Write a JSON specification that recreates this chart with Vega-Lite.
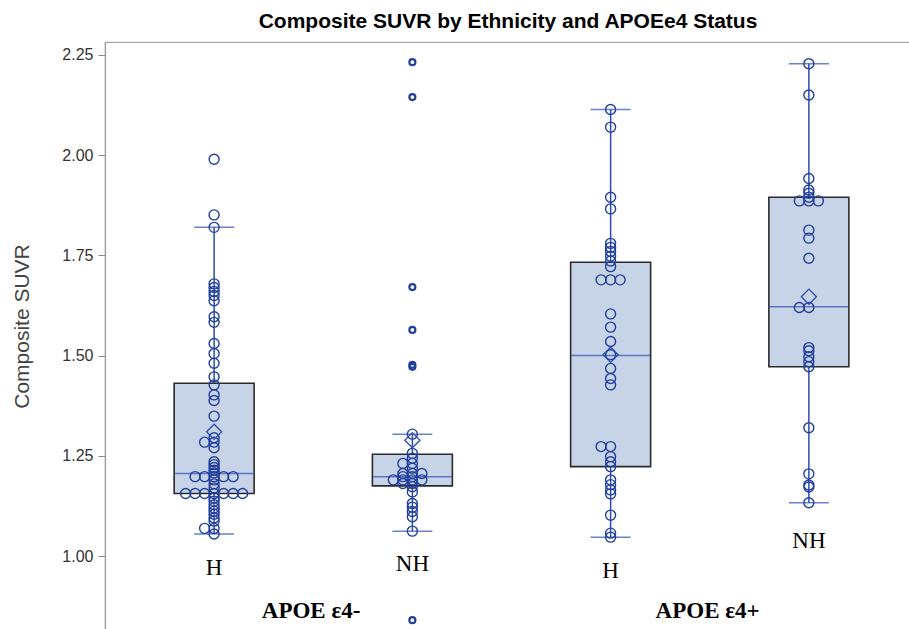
{
  "$schema": "https://vega.github.io/schema/vega-lite/v6.json",
  "autosize": "none",
  "padding": {"left": 105, "top": 42, "right": 0, "bottom": 0},
  "width": 806,
  "height": 590,
  "background": "white",
  "title": {
    "text": "Composite SUVR by Ethnicity and APOEe4 Status",
    "font": "Liberation Sans",
    "fontSize": 21,
    "fontWeight": "bold",
    "color": "#000000",
    "anchor": "middle",
    "frame": "group",
    "baseline": "alphabetic",
    "offset": 15,
    "dy": 22
  },
  "config": {
    "view": {"stroke": "#a6a6a6", "strokeWidth": 1.2},
    "axis": {"grid": false}
  },
  "datasets": {
    "points": [
      {"grp": "e4- H", "suvr": 1.990}, {"grp": "e4- H", "suvr": 1.851}, {"grp": "e4- H", "suvr": 1.820},
      {"grp": "e4- H", "suvr": 1.679}, {"grp": "e4- H", "suvr": 1.670}, {"grp": "e4- H", "suvr": 1.660},
      {"grp": "e4- H", "suvr": 1.650}, {"grp": "e4- H", "suvr": 1.637}, {"grp": "e4- H", "suvr": 1.597},
      {"grp": "e4- H", "suvr": 1.583}, {"grp": "e4- H", "suvr": 1.530}, {"grp": "e4- H", "suvr": 1.505},
      {"grp": "e4- H", "suvr": 1.481}, {"grp": "e4- H", "suvr": 1.447}, {"grp": "e4- H", "suvr": 1.427},
      {"grp": "e4- H", "suvr": 1.402}, {"grp": "e4- H", "suvr": 1.388}, {"grp": "e4- H", "suvr": 1.349},
      {"grp": "e4- H", "suvr": 1.295}, {"grp": "e4- H", "suvr": 1.284}, {"grp": "e4- H", "suvr": 1.284},
      {"grp": "e4- H", "suvr": 1.270}, {"grp": "e4- H", "suvr": 1.235}, {"grp": "e4- H", "suvr": 1.228},
      {"grp": "e4- H", "suvr": 1.221}, {"grp": "e4- H", "suvr": 1.214}, {"grp": "e4- H", "suvr": 1.207},
      {"grp": "e4- H", "suvr": 1.198}, {"grp": "e4- H", "suvr": 1.198}, {"grp": "e4- H", "suvr": 1.198},
      {"grp": "e4- H", "suvr": 1.198}, {"grp": "e4- H", "suvr": 1.198}, {"grp": "e4- H", "suvr": 1.190},
      {"grp": "e4- H", "suvr": 1.180}, {"grp": "e4- H", "suvr": 1.170}, {"grp": "e4- H", "suvr": 1.156},
      {"grp": "e4- H", "suvr": 1.156}, {"grp": "e4- H", "suvr": 1.156}, {"grp": "e4- H", "suvr": 1.156},
      {"grp": "e4- H", "suvr": 1.156}, {"grp": "e4- H", "suvr": 1.156}, {"grp": "e4- H", "suvr": 1.156},
      {"grp": "e4- H", "suvr": 1.145}, {"grp": "e4- H", "suvr": 1.137}, {"grp": "e4- H", "suvr": 1.128},
      {"grp": "e4- H", "suvr": 1.120}, {"grp": "e4- H", "suvr": 1.112}, {"grp": "e4- H", "suvr": 1.104},
      {"grp": "e4- H", "suvr": 1.095}, {"grp": "e4- H", "suvr": 1.087}, {"grp": "e4- H", "suvr": 1.069},
      {"grp": "e4- H", "suvr": 1.069}, {"grp": "e4- H", "suvr": 1.055},

      {"grp": "e4- NH", "suvr": 2.232}, {"grp": "e4- NH", "suvr": 2.145}, {"grp": "e4- NH", "suvr": 1.671},
      {"grp": "e4- NH", "suvr": 1.564}, {"grp": "e4- NH", "suvr": 1.477}, {"grp": "e4- NH", "suvr": 1.472},
      {"grp": "e4- NH", "suvr": 0.840}, {"grp": "e4- NH", "suvr": 1.304}, {"grp": "e4- NH", "suvr": 1.256},
      {"grp": "e4- NH", "suvr": 1.244}, {"grp": "e4- NH", "suvr": 1.231}, {"grp": "e4- NH", "suvr": 1.231},
      {"grp": "e4- NH", "suvr": 1.219}, {"grp": "e4- NH", "suvr": 1.206}, {"grp": "e4- NH", "suvr": 1.206},
      {"grp": "e4- NH", "suvr": 1.206}, {"grp": "e4- NH", "suvr": 1.198}, {"grp": "e4- NH", "suvr": 1.198},
      {"grp": "e4- NH", "suvr": 1.190}, {"grp": "e4- NH", "suvr": 1.190}, {"grp": "e4- NH", "suvr": 1.190},
      {"grp": "e4- NH", "suvr": 1.190}, {"grp": "e4- NH", "suvr": 1.181}, {"grp": "e4- NH", "suvr": 1.181},
      {"grp": "e4- NH", "suvr": 1.173}, {"grp": "e4- NH", "suvr": 1.160}, {"grp": "e4- NH", "suvr": 1.131},
      {"grp": "e4- NH", "suvr": 1.122}, {"grp": "e4- NH", "suvr": 1.111}, {"grp": "e4- NH", "suvr": 1.098},
      {"grp": "e4- NH", "suvr": 1.062},

      {"grp": "e4+ H", "suvr": 2.114}, {"grp": "e4+ H", "suvr": 2.070}, {"grp": "e4+ H", "suvr": 1.895},
      {"grp": "e4+ H", "suvr": 1.866}, {"grp": "e4+ H", "suvr": 1.780}, {"grp": "e4+ H", "suvr": 1.770},
      {"grp": "e4+ H", "suvr": 1.760}, {"grp": "e4+ H", "suvr": 1.748}, {"grp": "e4+ H", "suvr": 1.736},
      {"grp": "e4+ H", "suvr": 1.722}, {"grp": "e4+ H", "suvr": 1.689}, {"grp": "e4+ H", "suvr": 1.689},
      {"grp": "e4+ H", "suvr": 1.689}, {"grp": "e4+ H", "suvr": 1.604}, {"grp": "e4+ H", "suvr": 1.571},
      {"grp": "e4+ H", "suvr": 1.535}, {"grp": "e4+ H", "suvr": 1.502}, {"grp": "e4+ H", "suvr": 1.468},
      {"grp": "e4+ H", "suvr": 1.443}, {"grp": "e4+ H", "suvr": 1.427}, {"grp": "e4+ H", "suvr": 1.273},
      {"grp": "e4+ H", "suvr": 1.273}, {"grp": "e4+ H", "suvr": 1.248}, {"grp": "e4+ H", "suvr": 1.235},
      {"grp": "e4+ H", "suvr": 1.223}, {"grp": "e4+ H", "suvr": 1.190}, {"grp": "e4+ H", "suvr": 1.178},
      {"grp": "e4+ H", "suvr": 1.165}, {"grp": "e4+ H", "suvr": 1.155}, {"grp": "e4+ H", "suvr": 1.102},
      {"grp": "e4+ H", "suvr": 1.057}, {"grp": "e4+ H", "suvr": 1.047},

      {"grp": "e4+ NH", "suvr": 2.228}, {"grp": "e4+ NH", "suvr": 2.150}, {"grp": "e4+ NH", "suvr": 1.942},
      {"grp": "e4+ NH", "suvr": 1.913}, {"grp": "e4+ NH", "suvr": 1.905}, {"grp": "e4+ NH", "suvr": 1.895},
      {"grp": "e4+ NH", "suvr": 1.886}, {"grp": "e4+ NH", "suvr": 1.886}, {"grp": "e4+ NH", "suvr": 1.886},
      {"grp": "e4+ NH", "suvr": 1.813}, {"grp": "e4+ NH", "suvr": 1.793}, {"grp": "e4+ NH", "suvr": 1.743},
      {"grp": "e4+ NH", "suvr": 1.620}, {"grp": "e4+ NH", "suvr": 1.620}, {"grp": "e4+ NH", "suvr": 1.520},
      {"grp": "e4+ NH", "suvr": 1.512}, {"grp": "e4+ NH", "suvr": 1.497}, {"grp": "e4+ NH", "suvr": 1.485},
      {"grp": "e4+ NH", "suvr": 1.472}, {"grp": "e4+ NH", "suvr": 1.320}, {"grp": "e4+ NH", "suvr": 1.205},
      {"grp": "e4+ NH", "suvr": 1.177}, {"grp": "e4+ NH", "suvr": 1.172}, {"grp": "e4+ NH", "suvr": 1.133}
    ],
    "stats": [
      {"grp": "e4- H", "lo": 1.055, "q1": 1.156, "med": 1.206, "q3": 1.431, "hi": 1.820, "mean": 1.310},
      {"grp": "e4- NH", "lo": 1.062, "q1": 1.175, "med": 1.198, "q3": 1.254, "hi": 1.304, "mean": 1.289},
      {"grp": "e4+ H", "lo": 1.047, "q1": 1.223, "med": 1.500, "q3": 1.733, "hi": 2.114, "mean": 1.502},
      {"grp": "e4+ NH", "lo": 1.133, "q1": 1.472, "med": 1.622, "q3": 1.895, "hi": 2.228, "mean": 1.647}
    ],
    "labels": [
      {"grp": "e4- H", "y": 0.970, "t": "H"},
      {"grp": "e4- NH", "y": 0.980, "t": "NH"},
      {"grp": "e4+ H", "y": 0.963, "t": "H"},
      {"grp": "e4+ NH", "y": 1.038, "t": "NH"}
    ],
    "grouplabels": [
      {"grp": "e4- H", "y": 0.864, "t": "APOE ε4-"},
      {"grp": "e4+ H", "y": 0.864, "t": "APOE ε4+"}
    ]
  },
  "encoding": {
    "x": {
      "field": "grp",
      "type": "nominal",
      "scale": {"type": "band", "domain": ["e4- H", "e4- NH", "e4+ H", "e4+ NH"], "range": [10, 803], "paddingInner": 0, "paddingOuter": 0},
      "axis": null
    }
  },
  "layer": [
    {
      "data": {"name": "stats"},
      "mark": {"type": "rule", "color": "#2b4db5", "strokeWidth": 1.5},
      "encoding": {
        "y": {
          "field": "lo", "type": "quantitative",
          "scale": {"domain": [0.8104, 2.2824], "nice": false, "zero": false},
          "axis": {
            "title": "Composite SUVR",
            "values": [1, 1.25, 1.5, 1.75, 2, 2.25],
            "format": ".2f",
            "grid": false,
            "domainColor": "#a0a0a0",
            "domainWidth": 1.2,
            "tickColor": "#888888",
            "tickSize": 7,
            "labelPadding": 5,
            "labelFont": "Liberation Sans",
            "labelFontSize": 16,
            "labelColor": "#333333",
            "titleFont": "Liberation Sans",
            "titleFontSize": 21,
            "titleFontWeight": "normal",
            "titleColor": "#444444",
            "titleAngle": -90,
            "titleAlign": "center",
            "titleBaseline": "middle",
            "titleX": -83,
            "titleY": 284
          }
        },
        "y2": {"field": "hi"}
      }
    },
    {
      "data": {"name": "stats"},
      "mark": {"type": "tick", "color": "#2b4db5", "size": 40, "thickness": 1.5, "orient": "horizontal"},
      "encoding": {"y": {"field": "lo", "type": "quantitative"}}
    },
    {
      "data": {"name": "stats"},
      "mark": {"type": "tick", "color": "#2b4db5", "size": 40, "thickness": 1.5, "orient": "horizontal"},
      "encoding": {"y": {"field": "hi", "type": "quantitative"}}
    },
    {
      "data": {"name": "stats"},
      "mark": {"type": "bar", "width": 80, "fill": "#c7d3e6", "stroke": "#2b2b2b", "strokeWidth": 1.6},
      "encoding": {"y": {"field": "q1", "type": "quantitative"}, "y2": {"field": "q3"}}
    },
    {
      "data": {"name": "stats"},
      "mark": {"type": "tick", "color": "#2b4db5", "size": 79, "thickness": 1.5, "orient": "horizontal"},
      "encoding": {"y": {"field": "med", "type": "quantitative"}}
    },
    {
      "data": {"name": "points"},
      "transform": [
        {"window": [{"op": "row_number", "as": "k"}], "groupby": ["grp", "suvr"]},
        {"filter": "!(datum.grp === 'e4- NH' && (datum.suvr > 1.31 || datum.suvr < 1.06))"}
      ],
      "mark": {"type": "point", "shape": "circle", "filled": false, "stroke": "#213f9c", "strokeWidth": 1.4, "size": 100, "opacity": 1},
      "encoding": {
        "y": {"field": "suvr", "type": "quantitative"},
        "xOffset": {"field": "k", "type": "ordinal", "scale": {"type": "point", "domain": [6, 4, 2, 1, 3, 5, 7], "range": [70.6, 127.6], "padding": 0}}
      }
    },
    {
      "data": {"name": "points"},
      "transform": [
        {"filter": "datum.grp === 'e4- NH' && (datum.suvr > 1.31 || datum.suvr < 1.06)"}
      ],
      "mark": {"type": "point", "shape": "circle", "filled": false, "stroke": "#213f9c", "strokeWidth": 2.2, "size": 36, "opacity": 1},
      "encoding": {"y": {"field": "suvr", "type": "quantitative"}}
    },
    {
      "data": {"name": "stats"},
      "mark": {"type": "point", "shape": "diamond", "filled": false, "stroke": "#2b4db5", "strokeWidth": 1.3, "size": 230, "opacity": 1},
      "encoding": {"y": {"field": "mean", "type": "quantitative"}}
    },
    {
      "data": {"name": "labels"},
      "mark": {"type": "text", "font": "Liberation Serif", "fontSize": 23, "color": "#000000", "align": "center", "baseline": "middle"},
      "encoding": {"y": {"field": "y", "type": "quantitative"}, "text": {"field": "t"}}
    },
    {
      "data": {"name": "grouplabels"},
      "mark": {"type": "text", "font": "Liberation Serif", "fontSize": 23, "fontWeight": "bold", "color": "#000000", "align": "center", "baseline": "middle", "dx": 97},
      "encoding": {"y": {"field": "y", "type": "quantitative"}, "text": {"field": "t"}}
    }
  ]
}
